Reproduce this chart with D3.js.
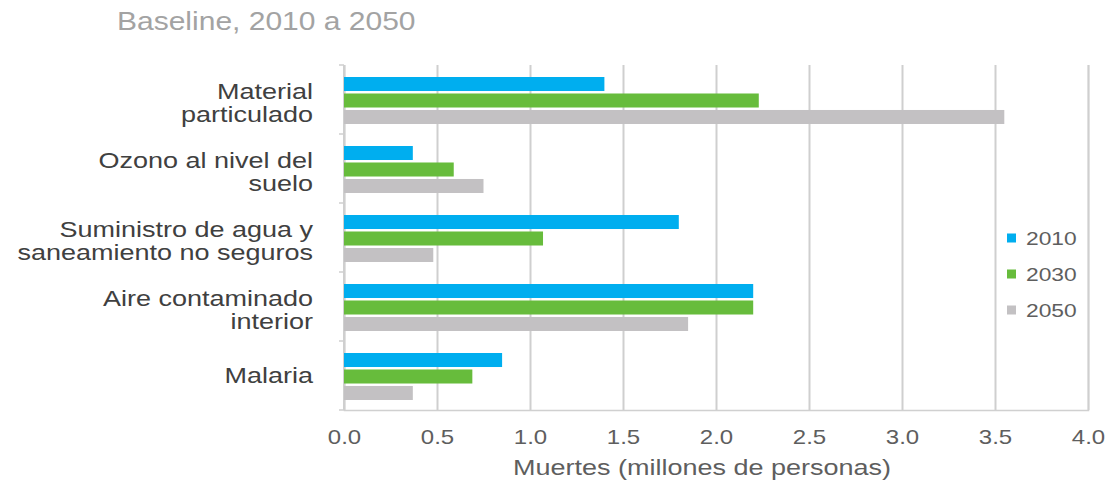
<!DOCTYPE html>
<html>
<head>
<meta charset="utf-8">
<script src="https://cdn.jsdelivr.net/npm/d3@7"></script>
<style>
  html, body { margin: 0; padding: 0; background: #fff; }
  svg { display: block; font-family: "Liberation Sans", Arial, sans-serif; }
</style>
</head>
<body>
<svg id="chart" width="1116" height="487"></svg>
<script>
// ---- Data ----
const categories = ["Material particulado", "Ozono al nivel del suelo", "Suministro de agua y saneamiento no seguros", "Aire contaminado interior", "Malaria"];
const categoryLines = [["Material", "particulado"], ["Ozono al nivel del", "suelo"], ["Suministro de agua y", "saneamiento no seguros"], ["Aire contaminado", "interior"], ["Malaria"]];
const seriesNames = ["2010", "2030", "2050"];
const values2010 = [1.40, 0.37, 1.80, 2.20, 0.85];
const values2030 = [2.23, 0.59, 1.07, 2.20, 0.69];
const values2050 = [3.55, 0.75, 0.48, 1.85, 0.37];
const tickValues = [0, 0.5, 1.0, 1.5, 2.0, 2.5, 3.0, 3.5, 4.0];
const colors = ["#00aeef", "#67bc3c", "#c3c1c3"];
const titleText = "Baseline, 2010 a 2050";
const xTitle = "Muertes (millones de personas)";

const seriesValues = [values2010, values2030, values2050];
const SX = 1.2; // horizontal stretch of text in the reference

const svg = d3.select("#chart");
const plotL = 344, plotR = 1088, plotT = 65, plotB = 410;

const x = d3.scaleLinear().domain([0, 4]).range([plotL, plotR]);
const y = d3.scaleBand().domain(categories).range([plotT, plotB]).padding(0);
const yInner = d3.scaleBand().domain(seriesNames).range([12, y.bandwidth() - 10]).paddingInner(0.15);

// Title
svg.append("text")
  .attr("transform", `translate(117,30) scale(${SX},1)`)
  .attr("font-size", 25)
  .attr("fill", "#a3a3a3")
  .text(titleText);

// Grid + bottom axis
const xAxis = d3.axisBottom(x).tickValues(tickValues).tickFormat(d3.format(".1f"))
  .tickSize(-(plotB - plotT)).tickPadding(0);
const gx = svg.append("g").attr("transform", `translate(0,${plotB})`).call(xAxis);
gx.select(".domain").attr("stroke", "#d0d0d0").attr("stroke-width", 1.5);
gx.selectAll(".tick line").attr("stroke", "#cfcfcf").attr("stroke-width", 2);
gx.selectAll(".tick text")
  .attr("y", 34).attr("dy", 0)
  .attr("transform", `scale(${SX},1)`)
  .attr("font-size", 20)
  .attr("fill", "#5e5e5e")
  .attr("font-family", "Liberation Sans, Arial, sans-serif");

// Left axis line and small ticks
svg.append("line").attr("x1", plotL).attr("x2", plotL).attr("y1", plotT).attr("y2", plotB)
  .attr("stroke", "#cfcfcf").attr("stroke-width", 2);
const boundaries = categories.map(c => y(c)).concat([plotB]);
svg.selectAll(".ytick").data(boundaries).enter().append("line")
  .attr("x1", plotL - 5).attr("x2", plotL).attr("y1", d => d).attr("y2", d => d)
  .attr("stroke", "#cfcfcf").attr("stroke-width", 1.5);

// Bars
const groups = svg.selectAll(".grp").data(categories).enter().append("g")
  .attr("transform", c => `translate(0,${y(c)})`);
seriesNames.forEach((s, si) => {
  groups.append("rect")
    .attr("x", x(0))
    .attr("y", yInner(s))
    .attr("height", yInner.bandwidth())
    .attr("width", (c, i) => x(seriesValues[si][i]) - x(0))
    .attr("fill", colors[si]);
});

// Category labels
categories.forEach((c, i) => {
  const lines = categoryLines[i];
  const cy = y(c) + y.bandwidth() / 2;
  const base = lines.length === 1 ? cy + 7 : cy - 1;
  lines.forEach((ln, li) => {
    svg.append("text")
      .attr("transform", `translate(313,${base + li * 23.5}) scale(${SX},1)`)
      .attr("text-anchor", "end")
      .attr("font-size", 22.5)
      .attr("fill", "#404040")
      .text(ln);
  });
});

// X axis title
svg.append("text")
  .attr("transform", `translate(702,475) scale(${SX},1)`)
  .attr("text-anchor", "middle")
  .attr("font-size", 22.5)
  .attr("fill", "#5e5e5e")
  .text(xTitle);

// Legend
const legY = d3.scalePoint().domain(seriesNames).range([238, 310]);
seriesNames.forEach((s, si) => {
  svg.append("rect")
    .attr("x", 1007).attr("y", legY(s) - 4.5).attr("width", 9).attr("height", 9)
    .attr("fill", colors[si]);
  svg.append("text")
    .attr("transform", `translate(1026,${legY(s) + 7}) scale(${SX},1)`)
    .attr("font-size", 19)
    .attr("fill", "#5e5e5e")
    .text(s);
});
</script>
</body>
</html>
